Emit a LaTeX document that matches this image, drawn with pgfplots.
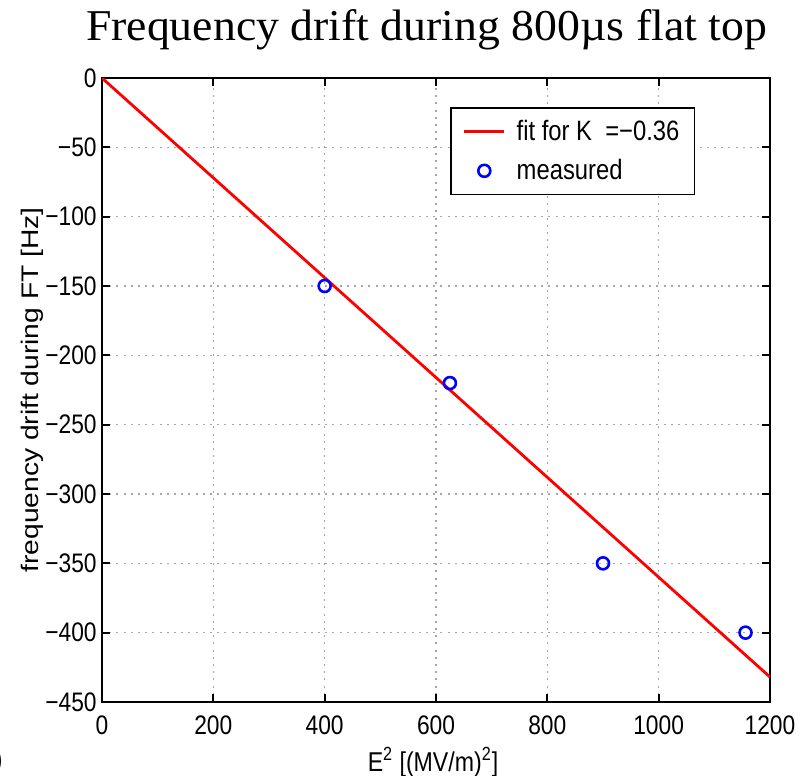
\documentclass[border=0pt]{standalone}
\usepackage{pgfplots}
\pgfplotsset{compat=1.18}
\usepackage{fontspec}
\setmainfont{Liberation Sans}[FakeStretch=0.85]
\newfontfamily\titlefont{Liberation Serif}[FakeStretch=1.04]
\newfontfamily\ylabfont{Liberation Sans}
\pgfplotsset{
  legline/.style={legend image code/.code={\draw[##1] (0bp,0bp) -- (20bp,0bp);}},
  legmark/.style={legend image code/.code={\draw[##1] plot coordinates {(10bp,0bp)};}},
}
\begin{document}
\begin{tikzpicture}
\path[use as bounding box] (-51bp,-37bp) rectangle (354.5bp,351bp);
\begin{axis}[
  at={(0,0)}, anchor=south west,
  scale only axis, width=334bp, height=312bp,
  xmin=0, xmax=1200, ymin=-450, ymax=0,
  xtick={0,200,...,1200},
  xticklabels={0,200,400,600,800,1000,1200},
  ytick={-450,-400,...,0},
  yticklabels={−450,−400,−350,−300,−250,−200,−150,−100,−50,0},
  tick align=inside,
  major tick length=4bp,
  every tick/.style={black, line width=0.9bp},
  axis line style={line width=1.4bp},
  grid=major,
  major grid style={gray!70, line width=0.7bp, dash pattern=on 1bp off 2.6bp},
  ticklabel style={font=\fontsize{13.4bp}{16bp}\selectfont},
  xticklabel style={inner sep=0pt, anchor=north, yshift=-6.5bp},
  yticklabel style={inner sep=0pt, anchor=east, xshift=-2.5bp},
  every axis title shift=0pt,
  title={\titlefont\fontsize{22bp}{26bp}\selectfont Frequency drift during 800µs flat top},
  title style={at={(axis description cs:0.4858,1.0609)}, anchor=base, inner sep=0pt},
  xlabel={E\textsuperscript{2} [(MV/m)\textsuperscript{2}]},
  xlabel style={at={(axis description cs:0.4955,-0.1106)}, anchor=base, inner sep=0pt, font=\fontsize{13.6bp}{16bp}\selectfont},
  ylabel={\scalebox{1}[0.85]{\ylabfont\fontsize{14.1bp}{16bp}\selectfont frequency drift during FT [Hz]}},
  ylabel style={at={(axis description cs:-0.0958,0.5)}, anchor=base, inner sep=0pt},
  legend style={at={(axis description cs:0.521,0.9535)}, anchor=north west,
    draw=black, line width=0.9bp, font=\fontsize{14bp}{16bp}\selectfont,
    inner xsep=6bp, inner ysep=4.5bp, row sep=5bp, column sep=4bp,
    nodes={inner sep=1.5bp}},
  legend cell align=left,
]
\addplot[red, line width=1.4bp, legline]
  coordinates {(0,0) (1200,-432)};
\addlegendentry{fit for K\ \ =−0.36}
\addplot[only marks, mark=o, blue, mark size=3bp, line width=1.3bp, legmark]
  coordinates {(400,-150) (625,-220) (900,-350) (1156,-400)};
\addlegendentry{measured}
\end{axis}
\node[anchor=east, inner sep=0pt, font=\fontsize{13.5bp}{16bp}\selectfont] at (-49.5bp,-30bp) {)};
\end{tikzpicture}
\end{document}
